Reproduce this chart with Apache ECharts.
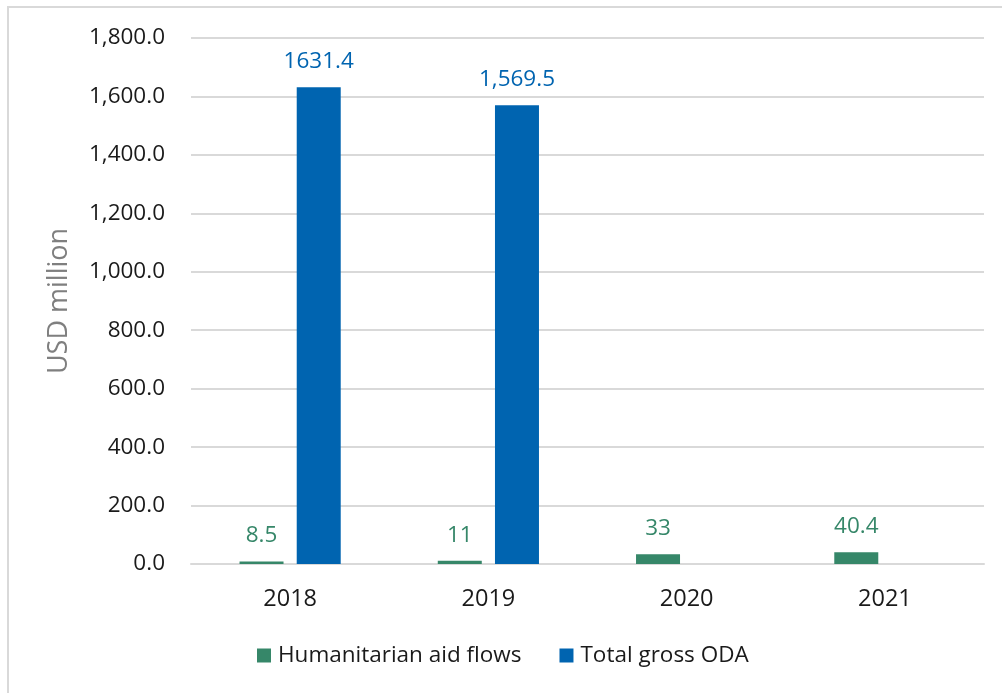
<!DOCTYPE html>
<html>
<head>
<meta charset="utf-8">
<style>
  html, body { margin: 0; padding: 0; background: #fff; }
  #chart { width: 1002px; height: 693px; }
</style>
<script src="https://cdn.jsdelivr.net/npm/echarts@6/dist/echarts.min.js"></script>
</head>
<body>
<div id="chart"></div>
<script>
// Humanitarian aid flows vs total gross ODA, USD million
const years = ['2018', '2019', '2020', '2021'];
const humanitarian = [8.5, 11, 33, 40.4];
const totalODA = [1631.4, 1569.5, null, null];
const humanitarianLabels = ['8.5', '11', '33', '40.4'];
const totalODALabels = ['1631.4', '1,569.5', '', ''];

const GREEN = '#368769';
const BLUE = '#0064b0';
const FONT = '"Open Sans", "Noto Sans", sans-serif';

const chart = echarts.init(document.getElementById('chart'));

const fmtTick = v => v.toLocaleString('en-US', { minimumFractionDigits: 1, maximumFractionDigits: 1 });

chart.setOption({
  animation: false,
  textStyle: { fontFamily: FONT },
  graphic: [
    {
      type: 'rect',
      shape: { x: 8, y: 7, width: 1200, height: 900 },
      style: { fill: 'none', stroke: '#d9d9d9', lineWidth: 2 },
      silent: true
    }
  ],
  grid: { left: 191, right: 18, top: 38, bottom: 129 },
  legend: {
    bottom: 21,
    left: 252,
    itemWidth: 14,
    itemHeight: 14,
    itemGap: 38,
    icon: 'rect',
    textStyle: { fontSize: 22.5, color: '#1a1a1a', fontFamily: FONT, padding: [0, 0, 0, 2] },
    data: ['Humanitarian aid flows', 'Total gross ODA']
  },
  xAxis: {
    type: 'category',
    data: years,
    axisLine: { lineStyle: { color: '#d9d9d9', width: 2 } },
    axisTick: { show: false },
    axisLabel: { fontSize: 23.5, color: '#1a1a1a', margin: 23, fontFamily: FONT }
  },
  yAxis: {
    type: 'value',
    min: 0,
    max: 1800,
    interval: 200,
    name: 'USD million',
    nameLocation: 'middle',
    nameGap: 118,
    nameTextStyle: { fontSize: 27, color: '#7f7f7f', fontFamily: FONT },
    axisLine: { show: false },
    axisTick: { show: false },
    splitLine: { lineStyle: { color: '#d9d9d9', width: 2 } },
    axisLabel: { fontSize: 22.5, color: '#1a1a1a', margin: 26, formatter: fmtTick, fontFamily: FONT }
  },
  series: [
    {
      name: 'Humanitarian aid flows',
      type: 'bar',
      data: humanitarian,
      barWidth: 44,
      barGap: '30%',
      itemStyle: { color: GREEN },
      label: {
        show: true,
        position: 'top',
        distance: 14,
        fontSize: 22.5,
        color: GREEN,
        fontFamily: FONT,
        formatter: p => humanitarianLabels[p.dataIndex]
      }
    },
    {
      name: 'Total gross ODA',
      type: 'bar',
      data: totalODA,
      barWidth: 44,
      barGap: '30%',
      itemStyle: { color: BLUE },
      label: {
        show: true,
        position: 'top',
        distance: 14,
        fontSize: 22.5,
        color: BLUE,
        fontFamily: FONT,
        formatter: p => totalODALabels[p.dataIndex]
      }
    }
  ]
});
</script>
</body>
</html>
